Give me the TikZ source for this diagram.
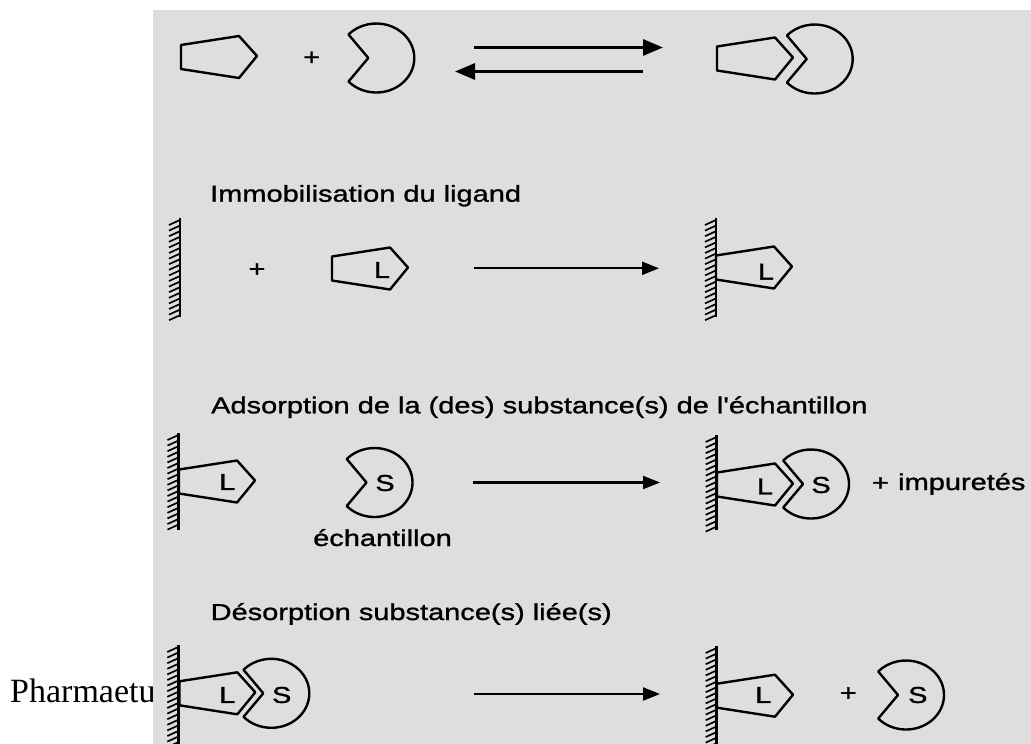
\documentclass[tikz,border=0pt]{standalone}
\usepackage{fontspec}
\setmainfont{Liberation Serif}
\newfontfamily\etiq[FakeStretch=1.26,FakeBold=1.2]{Liberation Sans}
\usetikzlibrary{arrows.meta}
\usetikzlibrary{positioning}

\tikzset{
	trait/.style={line width=2.4pt,line join=round},
	lettre/.style={font=\etiq\fontsize{23}{27}\selectfont,inner sep=0pt},
	titre/.style={lettre,anchor=base west},
	fleche/.style={line width=2.2pt,-{Triangle[length=17pt,width=13pt]}},
	grossefleche/.style={line width=3pt,-{Triangle[length=20pt,width=16pt]}},
	ligand/.pic={\draw[trait] (0,-12) -- (58,-21) -- (76,-1) -- (58,21) -- (0,12) -- cycle;},
	recepteur/.pic={\draw[trait] (-8,0) -- (137:38 and 34.5) arc[start angle=137,end angle=-137,x radius=38,y radius=34.5] -- cycle;},
	paroi/.pic={\draw[line width=2.6pt] (0,0) -- (0,#1);
		\foreach \h in {2,7.6,...,#1} \draw[line width=1.7pt] (0,\h) -- (-11,\h+5);}
}

\begin{document}
\begin{tikzpicture}[x=1pt,y=-1pt]
	\useasboundingbox (0,0) rectangle (1031,744);
	\node[anchor=base west,inner sep=0pt,font=\fontsize{34}{37}\selectfont] (pharma) at (10,702) {Pharmaetuc};
	\fill[black!13] (153,10) rectangle (1031,744);

	% ligand + recepteur <=> complexe
	\pic at (181,57) {ligand};
	\node[lettre] (plus1) at (311.7,58.3) {+};
	\pic at (376.3,58) {recepteur};
	\coordinate (a1) at (473.7,47.5);
	\coordinate (b1) at (663,47.5);
	\coordinate (a2) at (643,71.5);
	\coordinate (b2) at (455,71.5);
	\draw[grossefleche] (a1) -- (b1);
	\draw[grossefleche] (a2) -- (b2);
	\pic at (717,58.5) {ligand};
	\pic at (814.7,59) {recepteur};

	% Immobilisation du ligand
	\node[titre] (t2) at (210,201.7) {Immobilisation du ligand};
	\pic at (180,218) {paroi=99};
	\node[lettre] (plus2) at (257,270) {+};
	\pic at (332,268.5) {ligand};
	\node[lettre] (l2a) at (382,270) {L};
	\coordinate (a3) at (473.7,268.3);
	\coordinate (b3) at (659,268.3);
	\draw[fleche] (a3) -- (b3);
	\pic at (716,218) {paroi=99};
	\pic at (716,267.5) {ligand};
	\node[lettre] (l2b) at (766,271.7) {L};

	% Adsorption
	\node[titre] (t3) at (211,413.3) {Adsorption de la (des) substance(s) de l'échantillon};
	\pic at (178.5,433) {paroi=97};
	\pic at (179,481.5) {ligand};
	\node[lettre] (l3a) at (227.3,482) {L};
	\pic at (374.5,482.5) {recepteur};
	\node[lettre] (s3a) at (385,483) {S};
	\node[lettre,anchor=base] (ech) at (382.5,546) {échantillon};
	\coordinate (a4) at (473,482.5);
	\coordinate (b4) at (660,482.5);
	\draw[fleche] (a4) -- (b4);
	\pic at (716.7,435) {paroi=95};
	\pic at (717,484.5) {ligand};
	\node[lettre] (l3b) at (765,486.5) {L};
	\pic at (811,484) {recepteur};
	\node[lettre] (s3b) at (821,485) {S};
	\node[lettre,anchor=base west] (imp) at (898,490) {impuretés};
	\node[lettre,left=9pt of imp] (plus3) {+};

	% Desorption
	\node[titre] (t4) at (210.5,620) {Désorption substance(s) liée(s)};
	\pic at (178.3,645) {paroi=100};
	\pic at (179.3,693.3) {ligand};
	\node[lettre] (l4a) at (227.3,695) {L};
	\pic at (271.3,693.3) {recepteur};
	\node[lettre] (s4a) at (281.7,695) {S};
	\coordinate (a5) at (473.7,694);
	\coordinate (b5) at (660,694);
	\draw[fleche] (a5) -- (b5);
	\pic at (716.7,646) {paroi=99};
	\pic at (717,695.7) {ligand};
	\node[lettre] (l4b) at (763.3,695) {L};
	\node[lettre] (plus4) at (848.3,694) {+};
	\pic at (906,695) {recepteur};
	\node[lettre] (s4b) at (917.8,695) {S};
\end{tikzpicture}
\end{document}
